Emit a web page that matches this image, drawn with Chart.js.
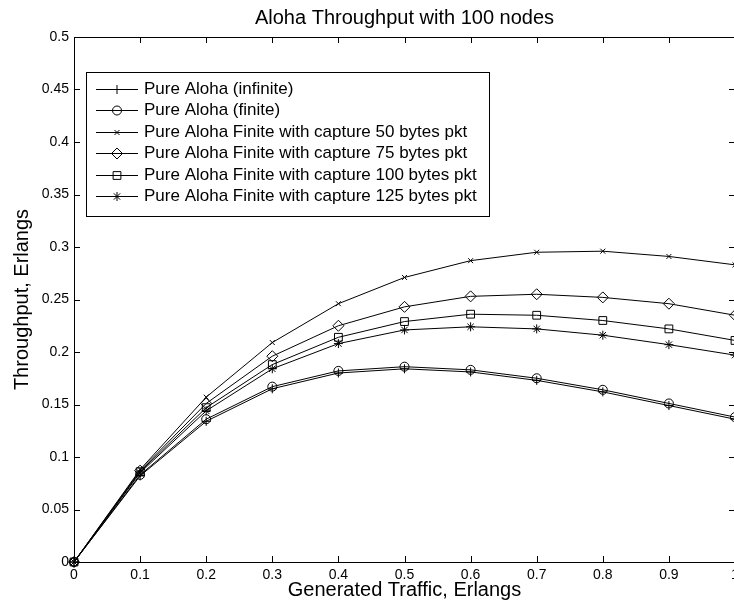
<!DOCTYPE html>
<html>
<head>
<meta charset="utf-8">
<script src="https://cdn.jsdelivr.net/npm/chart.js@4/dist/chart.umd.min.js"></script>
<style>
  html, body { margin: 0; padding: 0; background: #fff; overflow: hidden; }
  canvas { display: block; }
</style>
</head>
<body>
<canvas id="chart" width="745" height="612"></canvas>
<script>
// Generated traffic G (Erlangs)
const traffic = [0, 0.1, 0.2, 0.3, 0.4, 0.5, 0.6, 0.7, 0.8, 0.9, 1.0];

// Throughput per curve
const pureInfinite = [0, 0.082, 0.134, 0.165, 0.180, 0.184, 0.181, 0.173, 0.162, 0.149, 0.136];
const pureFinite   = [0, 0.083, 0.136, 0.167, 0.182, 0.186, 0.183, 0.175, 0.164, 0.151, 0.138];
const capture50    = [0, 0.088, 0.157, 0.209, 0.246, 0.271, 0.287, 0.295, 0.296, 0.291, 0.283];
const capture75    = [0, 0.087, 0.151, 0.196, 0.225, 0.243, 0.253, 0.255, 0.252, 0.246, 0.235];
const capture100   = [0, 0.086, 0.147, 0.188, 0.214, 0.229, 0.236, 0.235, 0.230, 0.222, 0.211];
const capture125   = [0, 0.085, 0.144, 0.184, 0.208, 0.221, 0.224, 0.222, 0.216, 0.207, 0.197];

const seriesNames = [
  'Pure Aloha (infinite)',
  'Pure Aloha (finite)',
  'Pure Aloha Finite with capture 50 bytes pkt',
  'Pure Aloha Finite with capture 75 bytes pkt',
  'Pure Aloha Finite with capture 100 bytes pkt',
  'Pure Aloha Finite with capture 125 bytes pkt'
];

const xTicks = [0, 0.1, 0.2, 0.3, 0.4, 0.5, 0.6, 0.7, 0.8, 0.9, 1];
const yTicks = [0, 0.05, 0.1, 0.15, 0.2, 0.25, 0.3, 0.35, 0.4, 0.45, 0.5];

const FONT = "'Liberation Sans', Arial, Helvetica, sans-serif";

// matlab-ish marker for each curve
const markers = [
  { style: 'cross', r: 4.5 },
  { style: 'circle', r: 4.5 },
  { style: 'crossRot', r: 3.5 },
  { style: 'rectRot', r: 5.5 },
  { style: 'rect', r: 5.5 },
  { style: 'star', r: 4.5 }
];

const allSeries = [pureInfinite, pureFinite, capture50, capture75, capture100, capture125];

const datasets = allSeries.map((vals, i) => ({
  label: seriesNames[i],
  data: traffic.map((x, j) => ({ x: x, y: vals[j] })),
  borderColor: '#000',
  borderWidth: 1,
  tension: 0,
  pointStyle: markers[i].style,
  pointRadius: markers[i].r,
  pointBorderColor: '#000',
  pointBackgroundColor: 'rgba(0,0,0,0)',
  pointBorderWidth: 1,
  clip: false
}));

function fmt(v) {
  return String(Number(v.toFixed(2)));
}

// frame, inward ticks, title and legend drawn matlab style
const matlabFrame = {
  id: 'matlabFrame',
  afterDraw(chart) {
    const ctx = chart.ctx;
    const a = chart.chartArea;
    const xs = chart.scales.x, ys = chart.scales.y;
    ctx.save();
    ctx.strokeStyle = '#000';
    ctx.lineWidth = 1;
    ctx.beginPath();
    ctx.rect(a.left + 0.5, a.top + 0.5, a.right - a.left, a.bottom - a.top);
    xTicks.forEach(v => {
      const px = Math.round(xs.getPixelForValue(v)) + 0.5;
      ctx.moveTo(px, a.bottom); ctx.lineTo(px, a.bottom - 6);
      ctx.moveTo(px, a.top); ctx.lineTo(px, a.top + 6);
    });
    yTicks.forEach(v => {
      const py = Math.round(ys.getPixelForValue(v)) + 0.5;
      ctx.moveTo(a.left, py); ctx.lineTo(a.left + 6, py);
      ctx.moveTo(a.right, py); ctx.lineTo(a.right - 6, py);
    });
    ctx.stroke();

    // title
    ctx.fillStyle = '#000';
    ctx.font = '20px ' + FONT;
    ctx.textAlign = 'center';
    ctx.textBaseline = 'middle';
    ctx.fillText('Aloha Throughput with 100 nodes', (a.left + a.right) / 2, 18);

    // legend box
    const bx = 86.5, by = 72.5, bw = 403, bh = 144;
    ctx.fillStyle = '#fff';
    ctx.fillRect(bx, by, bw, bh);
    ctx.strokeRect(bx, by, bw, bh);
    ctx.font = '17px ' + FONT;
    ctx.textAlign = 'left';
    seriesNames.forEach((name, i) => {
      const y = Math.round(89 + i * 21.4) + 0.5;
      ctx.beginPath();
      ctx.moveTo(96, y); ctx.lineTo(138, y);
      ctx.stroke();
      ctx.fillStyle = 'rgba(0,0,0,0)';
      Chart.helpers.drawPoint(ctx, {
        pointStyle: markers[i].style, radius: markers[i].r, rotation: 0, borderWidth: 1
      }, 117, y);
      ctx.fillStyle = '#000';
      ctx.fillText(name, 144, y);
    });
    ctx.restore();
  }
};

new Chart(document.getElementById('chart'), {
  type: 'line',
  data: { datasets: datasets },
  options: {
    responsive: false,
    animation: false,
    events: [],
    layout: { padding: { top: 37, right: 10, left: 0, bottom: 0 } },
    plugins: { legend: { display: false }, tooltip: { enabled: false }, title: { display: false } },
    scales: {
      x: {
        type: 'linear', min: 0, max: 1,
        grid: { display: false, drawTicks: false },
        border: { display: false },
        afterBuildTicks: s => { s.ticks = xTicks.map(v => ({ value: v })); },
        afterFit: s => { s.height = 50; },
        ticks: { color: '#000', padding: 5, font: { family: FONT, size: 14 }, maxRotation: 0, callback: v => fmt(v) },
        title: { display: true, text: 'Generated Traffic, Erlangs', color: '#000', font: { family: FONT, size: 20 }, padding: { top: 0, bottom: 10 } }
      },
      y: {
        type: 'linear', min: 0, max: 0.5,
        grid: { display: false, drawTicks: false },
        border: { display: false },
        afterBuildTicks: s => { s.ticks = yTicks.map(v => ({ value: v })); },
        afterFit: s => { s.width = 74; },
        ticks: { color: '#000', padding: 5, font: { family: FONT, size: 14 }, callback: v => fmt(v) },
        title: { display: true, text: 'Throughput, Erlangs', color: '#000', font: { family: FONT, size: 20 }, padding: { top: 10, bottom: 0 } }
      }
    }
  },
  plugins: [matlabFrame]
});
</script>
</body>
</html>
